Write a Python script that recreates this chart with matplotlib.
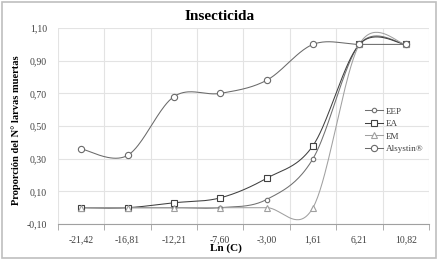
import numpy as np
import matplotlib
matplotlib.use('Agg')
import matplotlib.pyplot as plt
from matplotlib.lines import Line2D
from matplotlib.patches import Rectangle

plt.rcParams['font.family'] = ['Liberation Serif', 'DejaVu Serif']

categorias = ['-21,42', '-16,81', '-12,21', '-7,60', '-3,00', '1,61', '6,21', '10,82']
eep = [0.00, 0.00, 0.00, 0.00, 0.05, 0.30, 1.00, 1.00]
ea = [0.00, 0.00, 0.03, 0.06, 0.18, 0.38, 1.00, 1.00]
em = [0.00, 0.00, 0.00, 0.00, 0.00, 0.00, 1.00, 1.00]
alsystin = [0.36, 0.32, 0.68, 0.70, 0.78, 1.00, 1.00, 1.00]
yticks = [-0.10, 0.10, 0.30, 0.50, 0.70, 0.90, 1.10]


def suavizar(x, y, n=40):
    # curva tipo Excel (Catmull-Rom como Bezier)
    p = np.column_stack([x, y]).astype(float)
    p = np.vstack([p[0], p, p[-1]])
    out = []
    for i in range(1, len(p) - 2):
        p0, p1, p2, p3 = p[i - 1], p[i], p[i + 1], p[i + 2]
        c1 = p1 + (p2 - p0) / 6
        c2 = p2 - (p3 - p1) / 6
        t = np.linspace(0, 1, n)[:, None]
        b = (1 - t) ** 3 * p1 + 3 * (1 - t) ** 2 * t * c1 + 3 * (1 - t) * t ** 2 * c2 + t ** 3 * p2
        out.append(b)
    out = np.vstack(out)
    return out[:, 0], out[:, 1]


fig = plt.figure(figsize=(4.39, 2.60), dpi=100)
fig.patches.append(Rectangle((0.005, 0.008), 0.989, 0.984, transform=fig.transFigure,
                             fill=False, edgecolor='#bfbfbf', linewidth=1.2))
ax = fig.add_axes([0.132, 0.1385, 0.845, 0.7535])

x = np.arange(len(categorias))
series = [
    ('EEP', eep, 'o', 3.2, '#707070'),
    ('EA', ea, 's', 4.5, '#404040'),
    ('EM', em, '^', 4.2, '#a0a0a0'),
    ('Alsystin®', alsystin, 'o', 4.5, '#6a6a6a'),
]
handles = []
for nombre, vals, mk, ms, col in series:
    xs, ys = suavizar(x, vals)
    ax.plot(xs, ys, color=col, lw=0.75, zorder=3)
    ax.plot(x, vals, ls='none', marker=mk, ms=ms, mfc='white', mec=col, mew=0.8, zorder=4)
    handles.append(Line2D([], [], color=col, lw=0.75, marker=mk, ms=ms, mfc='white', mec=col, mew=0.8))

ax.set_xlim(-0.5, len(categorias) - 0.5)
ax.set_ylim(-0.10, 1.10)
ax.set_xticks(x)
ax.set_xticklabels(categorias)
ax.set_xticks(np.arange(-0.5, len(categorias)), minor=True)
ax.set_yticks(yticks)
ax.set_yticklabels([f'{v:.2f}'.replace('.', ',') for v in yticks])
ax.tick_params(axis='x', which='major', length=0, labelsize=7, pad=8, colors='#404040')
ax.tick_params(axis='x', which='minor', length=4, color='#a0a0a0', direction='out')
ax.tick_params(axis='y', length=0, labelsize=7, pad=8, colors='#404040')
ax.grid(True, which='minor', axis='x', color='#e3e3e3', lw=0.8)
ax.grid(True, which='major', axis='y', color='#e3e3e3', lw=0.8)
for s in ['top', 'right', 'left']:
    ax.spines[s].set_visible(False)
ax.spines['bottom'].set_color('#a0a0a0')

fig.text(0.5, 0.935, 'Insecticida', fontsize=11, fontweight='bold', ha='center', va='center')
fig.text(0.515, 0.045, 'Ln (C)', fontsize=8, fontweight='bold', ha='center', va='center')
fig.text(0.036, 0.5, 'Proporción del N° larvas muertas', fontsize=7.6, fontweight='bold',
         ha='center', va='center', rotation=90)

ax.legend(handles, [s[0] for s in series], loc='upper left', bbox_to_anchor=(0.818, 0.615),
          frameon=False, fontsize=6.6, handlelength=2.0, handletextpad=0.3, labelspacing=0.45,
          borderaxespad=0, labelcolor='#404040')

fig.savefig('out.png', dpi=100)
